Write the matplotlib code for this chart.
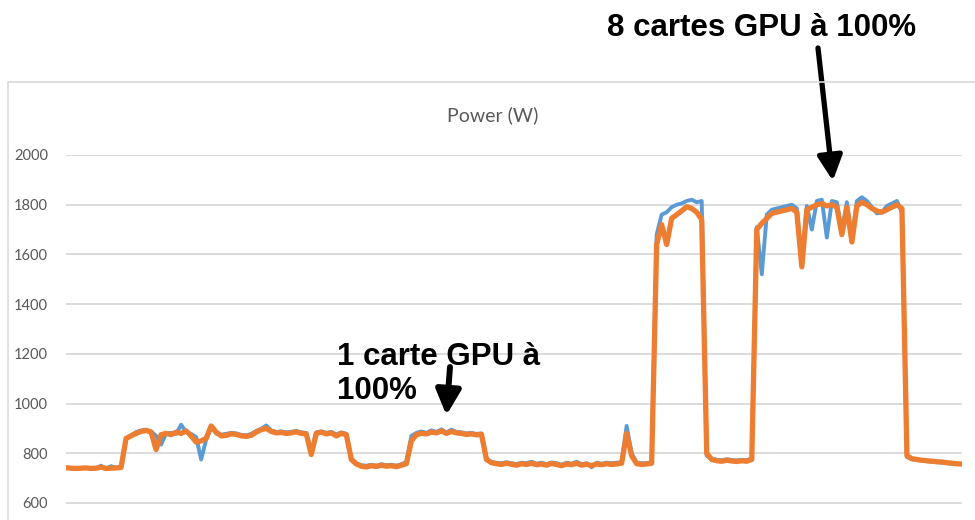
import matplotlib
matplotlib.use('Agg')

import matplotlib.pyplot as plt
import matplotlib.patches as patches
import numpy as np

# power samples from the two meters (W), one sample per time step
power_a = [742, 740, 739, 741, 741, 739, 740, 750, 739, 748, 741, 745,
           858, 872, 885, 892, 895, 888, 870, 835, 880, 882, 878, 915, 885, 878, 865, 775, 855, 905,
           880,
           875, 878, 882, 880, 874, 872, 878, 890, 898, 912, 892, 886, 888, 884, 886, 890, 884, 882, 800, 884, 888, 882, 886, 876, 884, 878,
           780, 760, 752, 750, 754, 750, 756, 752, 754, 750, 756, 765,
           870, 882, 888, 882, 892, 886, 896, 884, 895, 886, 884, 880, 882, 878, 880,
           780, 765, 762, 760, 764, 760, 757, 762, 760, 766, 758, 762, 756, 763, 760, 754, 762, 758, 766, 756, 760, 744, 762, 758, 762, 760, 762, 764,
           910, 800, 762, 760, 760, 764,
           1680, 1760, 1770, 1790, 1800, 1805, 1815, 1820, 1810, 1815,
           790, 778, 774, 772, 776, 773, 771, 774, 772, 780,
           1710, 1520, 1760, 1780, 1785, 1790, 1795, 1800, 1785, 1570, 1795, 1700, 1815, 1820, 1668, 1815, 1810, 1690, 1810, 1660,
           1815, 1830, 1815, 1790, 1765, 1770, 1795, 1805, 1815, 1770,
           785, 776, 773, 770, 768, 766, 764, 763, 760, 758, 757, 756]

power_b = [742, 740, 739, 740, 741, 739, 740, 744, 739, 740, 741, 743,
           860, 870, 880, 888, 892, 885, 815, 875, 880, 875, 885, 880, 890, 870, 845, 850, 860, 910,
           885,
           870, 872, 878, 876, 870, 868, 872, 885, 895, 900, 888, 882, 884, 880, 882, 886, 880, 878, 795, 880, 885, 878, 882, 870, 880, 875,
           775, 757, 748, 745, 750, 747, 752, 748, 750, 746, 752, 758,
           850, 875, 880, 878, 885, 882, 890, 880, 888, 882, 880, 876, 878, 874, 876,
           775, 762, 758, 755, 760, 756, 752, 758, 755, 760, 754, 757, 752, 759, 755, 750, 757, 754, 760, 752, 756, 750, 757, 754, 758, 755, 757, 760,
           880, 790, 758, 755, 757, 760,
           1640, 1720, 1640, 1745, 1760, 1775, 1792, 1785, 1770, 1740,
           800, 775, 770, 768, 772, 769, 767, 770, 768, 775,
           1700, 1725, 1745, 1765, 1770, 1775, 1780, 1785, 1770, 1550, 1780, 1790, 1800, 1805, 1795, 1800, 1790, 1680, 1790, 1650,
           1795, 1810, 1800, 1785, 1775, 1770, 1780, 1790, 1800, 1785,
           790, 778, 775, 772, 770, 768, 766, 765, 762, 760, 758, 757]

y_ticks = [600, 800, 1000, 1200, 1400, 1600, 1800, 2000]

t = np.arange(len(power_a))

fig = plt.figure(figsize=(9.75, 5.2), dpi=100)
fig.patch.set_facecolor('white')

W, H = 975.0, 520.0
ax = fig.add_axes([66 / W, 0, 896 / W, 1 - 155 / H])

ax.plot(t, power_a, color='#5B9BD5', lw=2.8, solid_joinstyle='round', zorder=3)
ax.plot(t, power_b, color='#ED7D31', lw=3.8, solid_joinstyle='round', zorder=4)

ax.set_xlim(0, len(t) - 1)
ax.set_ylim(531.6, 2000)
ax.set_yticks(y_ticks)
ax.set_xticks([])
ax.yaxis.grid(True, color='#D9D9D9', lw=1.3)
ax.set_axisbelow(True)
for s in ax.spines.values():
    s.set_visible(False)
ax.tick_params(axis='y', length=0, pad=13, labelsize=10.5, labelcolor='#595959')
for lbl in ax.get_yticklabels():
    lbl.set_fontfamily('Lato')

# chart frame (top and left edges)
fig.add_artist(patches.Rectangle((8 / W, -0.1), 1.2, 1 - 82 / H + 0.1,
                                 transform=fig.transFigure, facecolor='none',
                                 edgecolor='#D9D9D9', lw=1.2))

fig.text(493 / W, 1 - 115 / H, 'Power (W)', ha='center', va='center',
         fontsize=14, color='#595959', family='Lato')

# annotations
fig.text(762 / W, 1 - 28 / H, '8 cartes GPU à 100%', ha='center', va='center',
         fontsize=22.5, fontweight='bold', family='Liberation Sans')
ax.annotate('', xy=(153.2, 1896), xytext=(818, H - 48), textcoords='figure pixels',
            arrowprops=dict(arrowstyle='-|>,head_length=0.6,head_width=0.3',
                            mutation_scale=25, lw=3.8, color='black',
                            shrinkA=0, shrinkB=0),
            annotation_clip=False)

fig.text(337 / W, 1 - 357 / H, '1 carte GPU à', ha='left', va='center',
         fontsize=22.5, fontweight='bold', family='Liberation Sans')
fig.text(337 / W, 1 - 391 / H, '100%', ha='left', va='center',
         fontsize=22.5, fontweight='bold', family='Liberation Sans')
ax.annotate('', xy=(76, 953), xytext=(450, H - 367), textcoords='figure pixels',
            arrowprops=dict(arrowstyle='-|>,head_length=0.6,head_width=0.3',
                            mutation_scale=25, lw=4.3, color='black',
                            shrinkA=0, shrinkB=0),
            annotation_clip=False)

fig.savefig('out.png', dpi=100, facecolor='white')
